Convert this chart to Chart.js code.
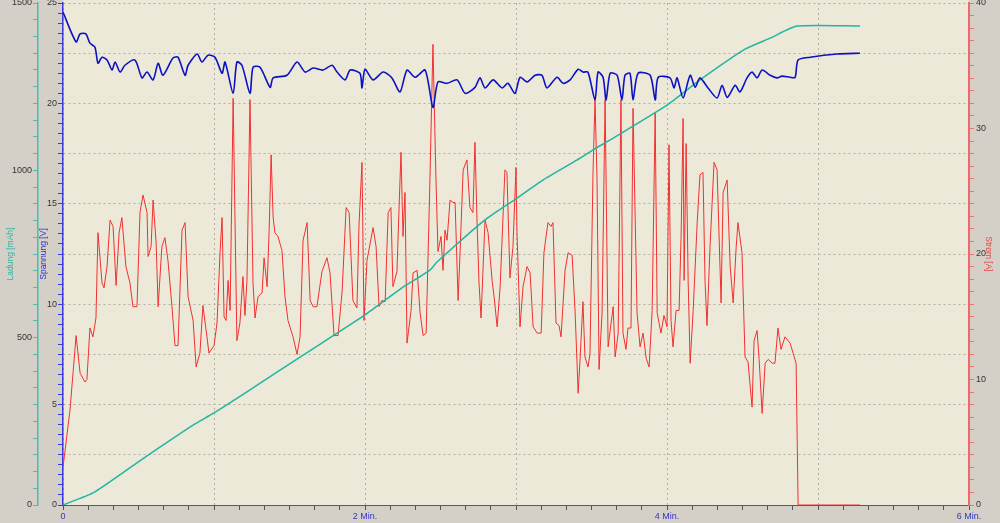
<!DOCTYPE html>
<html lang="de">
<head>
<meta charset="utf-8">
<title>Ladung / Spannung / Strom</title>
<script src="https://cdn.jsdelivr.net/npm/chart.js@4.4.1/dist/chart.umd.min.js"></script>
<style>
  html, body { margin: 0; padding: 0; background: #d4d0c8; }
  #wrap { width: 1000px; height: 523px; }
</style>
</head>
<body>
<div id="wrap"><canvas id="chart" width="1000" height="523"></canvas></div>
<script>
// Achsen
const zeitLabelWerte = [0, 120, 240, 360];
const zeitLabels = ['0', '2 Min.', '4 Min.', '6 Min.'];
const zeitGitter = [0, 60, 120, 180, 240, 300, 360];
const ladungLabels = [0, 500, 1000, 1500];
const spannungLabels = [0, 5, 10, 15, 20, 25];
const spannungGitter = [0, 2.5, 5, 7.5, 10, 12.5, 15, 17.5, 20, 22.5, 25];
const stromLabels = [0, 10, 20, 30, 40];

// Strom [A] (Zeit in Sekunden)
const stromZeit = [
  0, 2.8, 5.2, 6.8, 8.7, 9.5, 10.7, 11.9, 13.1, 13.9,
  15.5, 16.3, 17.5, 18.7, 19.9, 21.1, 22.3, 23.4, 25.0, 26.6,
  27.8, 29.4, 30.6, 31.8, 33.4, 33.8, 35.0, 35.8, 37.0, 37.8,
  39.3, 40.5, 41.7, 43.3, 44.5, 45.7, 47.3, 48.5, 49.7, 51.7,
  52.9, 54.4, 55.6, 57.2, 58.0, 60.0, 61.2, 62.4, 63.2, 64.0,
  64.8, 65.6, 66.4, 67.6, 69.1, 70.3, 71.5, 72.3, 73.1, 74.3,
  75.5, 76.3, 77.5, 79.1, 79.9, 81.1, 81.9, 82.7, 83.5, 84.2,
  85.4, 87.0, 88.2, 89.4, 91.4, 93.0, 94.2, 95.4, 97.0, 98.2,
  99.4, 100.9, 102.9, 104.9, 106.1, 107.7, 109.3, 110.9, 112.5, 113.7,
  115.2, 116.8, 117.6, 118.8, 119.6, 120.8, 123.2, 124.4, 125.6, 126.8,
  128.0, 129.2, 130.3, 131.1, 132.7, 133.5, 134.3, 135.1, 135.9, 136.7,
  138.3, 139.1, 140.7, 141.9, 143.1, 144.3, 145.8, 147.0, 148.2, 149.0,
  150.2, 151.0, 151.8, 152.6, 153.8, 155.0, 155.8, 157.0, 157.8, 159.0,
  160.5, 161.7, 162.9, 163.7, 164.5, 165.3, 166.1, 167.7, 168.9, 170.5,
  171.3, 172.5, 173.7, 175.6, 176.4, 177.6, 178.8, 180.0, 180.4, 181.6,
  182.8, 184.4, 185.6, 186.8, 188.4, 190.0, 191.1, 192.7, 193.9, 194.7,
  195.9, 197.1, 197.9, 199.5, 200.7, 202.3, 203.5, 204.7, 205.5, 206.6,
  207.4, 208.6, 209.4, 210.6, 211.4, 212.2, 213.0, 214.2, 215.4, 216.6,
  218.6, 219.4, 220.6, 221.7, 222.5, 223.7, 224.5, 225.7, 226.5, 228.1,
  229.3, 230.5, 231.7, 232.9, 234.1, 235.3, 236.1, 237.6, 238.8, 240.0,
  240.8, 241.6, 242.4, 243.6, 244.8, 245.6, 246.4, 246.8, 247.6, 248.4,
  249.2, 250.4, 252.0, 253.1, 254.3, 255.1, 255.9, 257.1, 258.7, 259.9,
  261.5, 262.3, 263.9, 265.1, 266.3, 267.5, 268.2, 269.8, 271.0, 272.2,
  273.8, 274.6, 275.8, 276.6, 277.8, 279.0, 280.2, 281.8, 282.9, 284.1,
  285.3, 286.9, 288.9, 290.1, 291.3, 292.1, 316.7
];
const stromWerte = [
  3.0, 7.6, 13.5, 10.5, 9.8, 10.0, 14.1, 13.4, 14.9, 21.7,
  17.7, 17.3, 19.0, 22.7, 22.2, 17.5, 21.7, 22.9, 19.0, 17.7,
  15.8, 15.8, 23.3, 24.7, 23.3, 19.8, 20.6, 24.3, 20.9, 15.8,
  20.6, 21.3, 19.5, 15.8, 12.7, 12.7, 21.9, 22.5, 16.6, 14.7,
  11.0, 12.1, 15.9, 13.4, 12.1, 12.7, 14.5, 20.1, 22.9, 15.0,
  14.7, 17.9, 15.5, 32.4, 13.1, 14.5, 18.2, 15.1, 17.9, 32.3,
  17.7, 14.9, 16.6, 16.9, 19.7, 17.4, 21.8, 27.9, 22.9, 21.7,
  21.4, 20.3, 16.6, 14.7, 13.4, 12.0, 13.4, 21.1, 22.5, 16.3,
  15.8, 15.8, 18.6, 19.7, 18.5, 13.5, 13.5, 17.0, 23.7, 23.3,
  16.3, 15.7, 22.2, 27.3, 14.7, 19.5, 22.1, 20.6, 15.8, 16.3,
  16.2, 23.3, 23.7, 17.4, 18.6, 23.5, 28.1, 21.4, 24.9, 12.9,
  15.5, 18.5, 18.7, 15.3, 13.5, 13.7, 25.9, 36.7, 25.9, 20.2,
  21.4, 18.7, 21.9, 21.1, 24.3, 24.1, 24.1, 16.3, 20.3, 26.7,
  27.5, 23.7, 23.3, 28.9, 22.7, 17.7, 14.9, 22.7, 21.7, 17.9,
  16.6, 14.2, 17.4, 26.7, 26.5, 18.1, 20.6, 26.9, 21.7, 14.2,
  17.4, 19.0, 18.5, 14.2, 13.7, 13.7, 20.1, 22.5, 22.2, 22.5,
  14.5, 14.3, 13.4, 18.7, 20.1, 19.9, 15.3, 8.9, 11.8, 16.2,
  11.8, 11.0, 12.0, 26.5, 32.3, 25.9, 10.8, 15.3, 32.3, 12.6,
  15.8, 11.8, 13.7, 32.3, 13.7, 12.4, 14.1, 14.1, 31.6, 15.3,
  12.6, 13.7, 11.7, 11.0, 15.5, 31.3, 15.3, 13.7, 15.1, 14.2,
  28.7, 14.7, 12.6, 15.5, 15.5, 21.4, 30.8, 17.9, 28.8, 17.9,
  11.3, 15.5, 22.5, 26.3, 26.5, 17.9, 14.3, 20.6, 27.3, 26.7,
  16.1, 24.9, 25.9, 19.0, 16.1, 20.6, 22.5, 20.1, 11.8, 11.4,
  7.8, 13.1, 13.9, 11.6, 7.3, 11.3, 11.6, 11.3, 11.3, 14.1,
  12.4, 13.4, 12.9, 12.1, 11.3, 0, 0
];

// Spannung [V]
const spannungZeit = [
  0, 5.2, 6.8, 9.1, 10.7, 12.7, 13.9, 15.5, 17.5, 19.5,
  20.7, 22.7, 24.6, 28.6, 31.4, 33.4, 35.8, 37.8, 39.7, 43.7,
  45.7, 48.5, 49.7, 53.3, 55.2, 57.6, 60.4, 63.2, 64.4, 67.6,
  69.1, 71.1, 74.3, 75.5, 78.3, 82.3, 83.5, 89.0, 93.0, 96.2,
  99.4, 103.3, 106.9, 108.9, 112.1, 114.1, 118.0, 118.8, 120.0, 123.2,
  127.2, 130.7, 133.9, 136.7, 139.9, 143.9, 147.0, 149.0, 152.6, 156.6,
  159.8, 163.7, 165.7, 167.7, 170.9, 174.5, 176.8, 179.6, 181.6, 184.4,
  187.6, 190.3, 192.3, 196.3, 198.7, 201.5, 204.7, 206.6, 208.6, 211.4,
  212.6, 214.6, 215.8, 217.4, 220.2, 222.1, 223.3, 225.3, 226.5, 228.5,
  233.3, 235.3, 236.5, 241.2, 242.8, 244.0, 246.4, 249.2, 251.2, 253.1,
  256.3, 259.9, 261.9, 263.9, 267.1, 269.0, 271.8, 273.8, 275.8, 277.8,
  281.0, 283.7, 285.7, 288.9, 290.9, 292.1, 296.9, 307.6, 316.7
];
const spannungWerte = [
  24.55, 23.06, 23.46, 23.46, 23.0, 22.8, 22.0, 22.3, 22.16, 21.66,
  22.06, 21.56, 21.9, 22.16, 21.27, 21.56, 21.17, 22.0, 21.4, 22.26,
  22.3, 21.4, 21.9, 22.46, 22.06, 22.4, 22.3, 21.5, 22.06, 20.5,
  22.06, 21.9, 20.5, 21.8, 21.8, 20.8, 21.27, 21.4, 22.06, 21.56,
  21.76, 21.66, 21.9, 21.56, 21.17, 21.66, 21.5, 20.77, 21.7, 21.17,
  21.56, 21.27, 20.57, 21.66, 21.3, 21.66, 19.8, 21.07, 21.0, 21.17,
  20.5, 20.8, 21.27, 20.77, 21.17, 20.77, 21.0, 20.5, 21.3, 21.07,
  21.4, 21.4, 20.77, 21.3, 21.0, 21.17, 21.7, 21.56, 21.56, 20.17,
  21.56, 21.3, 20.17, 21.5, 21.4, 20.17, 21.4, 21.5, 20.17, 21.5,
  21.4, 20.17, 21.3, 21.27, 20.77, 21.27, 20.27, 21.4, 20.8, 21.27,
  20.77, 20.27, 20.9, 20.3, 20.9, 20.57, 21.27, 21.56, 21.27, 21.66,
  21.4, 21.27, 21.36, 21.3, 21.3, 22.16, 22.3, 22.46, 22.5
];

// Ladung [mAh]
const ladungZeit = [
  0, 11.9, 25.4, 38.5, 51.7, 60.0, 74.3, 94.2, 120.0, 135.1,
  145.8, 148.6, 167.7, 180.4, 190.7, 204.3, 210.6, 217.4, 240.0, 253.1,
  271.0, 281.0, 291.7, 316.7
];
const ladungWerte = [
  0, 36, 105, 173, 239, 275, 344, 442, 568, 651,
  702, 726, 852, 917, 971, 1031, 1061, 1091, 1195, 1270,
  1362, 1395, 1431, 1431
];

const schrift = { family: '"Liberation Sans", Arial, sans-serif', size: 9 };
const titelSchrift = { family: '"Liberation Sans", Arial, sans-serif', size: 8.5 };
const gitterFarbe = '#b2b0a4';

function punkte(zeit, werte) {
  return zeit.map((t, i) => ({ x: t, y: werte[i] }));
}

function istIn(v, liste) {
  return liste.some(w => Math.abs(w - v) < 1e-6);
}

// Hintergrund: grau außen, beige im Diagramm
const hintergrund = {
  id: 'hintergrund',
  beforeDraw(chart) {
    const { ctx, chartArea } = chart;
    ctx.save();
    ctx.fillStyle = '#d4d0c8';
    ctx.fillRect(0, 0, chart.width, chart.height);
    ctx.fillStyle = '#ece9d8';
    ctx.fillRect(chartArea.left, 0, chartArea.right - chartArea.left, chartArea.bottom);
    ctx.restore();
  }
};

new Chart(document.getElementById('chart'), {
  type: 'line',
  data: {
    datasets: [
      {
        label: 'Spannung [V]',
        data: punkte(spannungZeit, spannungWerte),
        yAxisID: 'spannung',
        borderColor: '#0c12c4',
        borderWidth: 1.6,
        tension: 0.25,
        order: 1
      },
      {
        label: 'Ladung [mAh]',
        data: punkte(ladungZeit, ladungWerte),
        yAxisID: 'ladung',
        borderColor: '#22b4a4',
        borderWidth: 1.5,
        tension: 0.2,
        order: 2
      },
      {
        label: 'Strom [A]',
        data: punkte(stromZeit, stromWerte),
        yAxisID: 'strom',
        borderColor: '#f23030',
        borderWidth: 1,
        tension: 0,
        order: 3
      }
    ]
  },
  options: {
    responsive: false,
    animation: false,
    events: [],
    elements: { point: { radius: 0 } },
    layout: { padding: { top: 3, left: 0, right: 0, bottom: 0 } },
    plugins: {
      legend: { display: false },
      tooltip: { enabled: false }
    },
    scales: {
      x: {
        type: 'linear',
        position: 'bottom',
        min: 0,
        max: 360,
        ticks: {
          stepSize: 10,
          autoSkip: false,
          maxRotation: 0,
          minRotation: 0,
          padding: 1,
          color: '#3434c4',
          font: schrift,
          callback: v => {
            const i = zeitLabelWerte.indexOf(v);
            return i >= 0 ? zeitLabels[i] : '';
          }
        },
        grid: {
          color: ctx => ctx.tick && istIn(ctx.tick.value, zeitGitter) ? gitterFarbe : 'transparent',
          tickColor: '#555555',
          tickLength: 5
        },
        border: { color: '#5a5a5a', width: 1, dash: [2, 3] },
        afterFit: s => { s.height = 18; s.paddingLeft = 0; s.paddingRight = 0; }
      },
      ladung: {
        position: 'left',
        weight: 2,
        min: 0,
        max: 1500,
        ticks: {
          stepSize: 50,
          autoSkip: false,
          padding: 1,
          color: '#333333',
          font: schrift,
          callback: v => ladungLabels.includes(v) ? String(v) : ''
        },
        grid: { drawOnChartArea: false, color: '#40c0b0', tickLength: 5 },
        border: { color: '#40c0b0', width: 1.5 },
        title: {
          display: true,
          text: 'Ladung [mAh]',
          color: '#36b4a4',
          font: titelSchrift,
          padding: { top: 6, bottom: 0 }
        },
        afterFit: s => { s.width = 38; s.paddingTop = 0; s.paddingBottom = 0; }
      },
      spannung: {
        position: 'left',
        weight: 1,
        min: 0,
        max: 25,
        ticks: {
          stepSize: 0.5,
          autoSkip: false,
          padding: 1,
          color: '#333333',
          font: schrift,
          callback: v => spannungLabels.includes(v) ? String(v) : ''
        },
        grid: {
          color: ctx => ctx.tick && istIn(ctx.tick.value, spannungGitter) ? gitterFarbe : 'transparent',
          tickColor: '#3a3ae0',
          tickLength: 5
        },
        border: { color: '#3a3ae0', width: 1.5, dash: [2, 3] },
        title: {
          display: true,
          text: 'Spannung [V]',
          color: '#3030cc',
          font: titelSchrift,
          padding: { top: 1, bottom: 0 }
        },
        afterFit: s => { s.width = 25; s.paddingTop = 0; s.paddingBottom = 0; }
      },
      strom: {
        position: 'right',
        min: 0,
        max: 40,
        ticks: {
          stepSize: 1,
          autoSkip: false,
          padding: 2,
          color: '#333333',
          font: schrift,
          callback: v => stromLabels.includes(v) ? String(v) : ''
        },
        grid: { drawOnChartArea: false, color: '#f07070', tickLength: 5 },
        border: { color: '#f06868', width: 2 },
        title: {
          display: true,
          text: 'Strom [A]',
          color: '#e04848',
          font: titelSchrift,
          padding: { top: 7, bottom: 0 }
        },
        afterFit: s => { s.width = 31; s.paddingTop = 0; s.paddingBottom = 0; }
      }
    }
  },
  plugins: [hintergrund]
});
</script>
</body>
</html>
